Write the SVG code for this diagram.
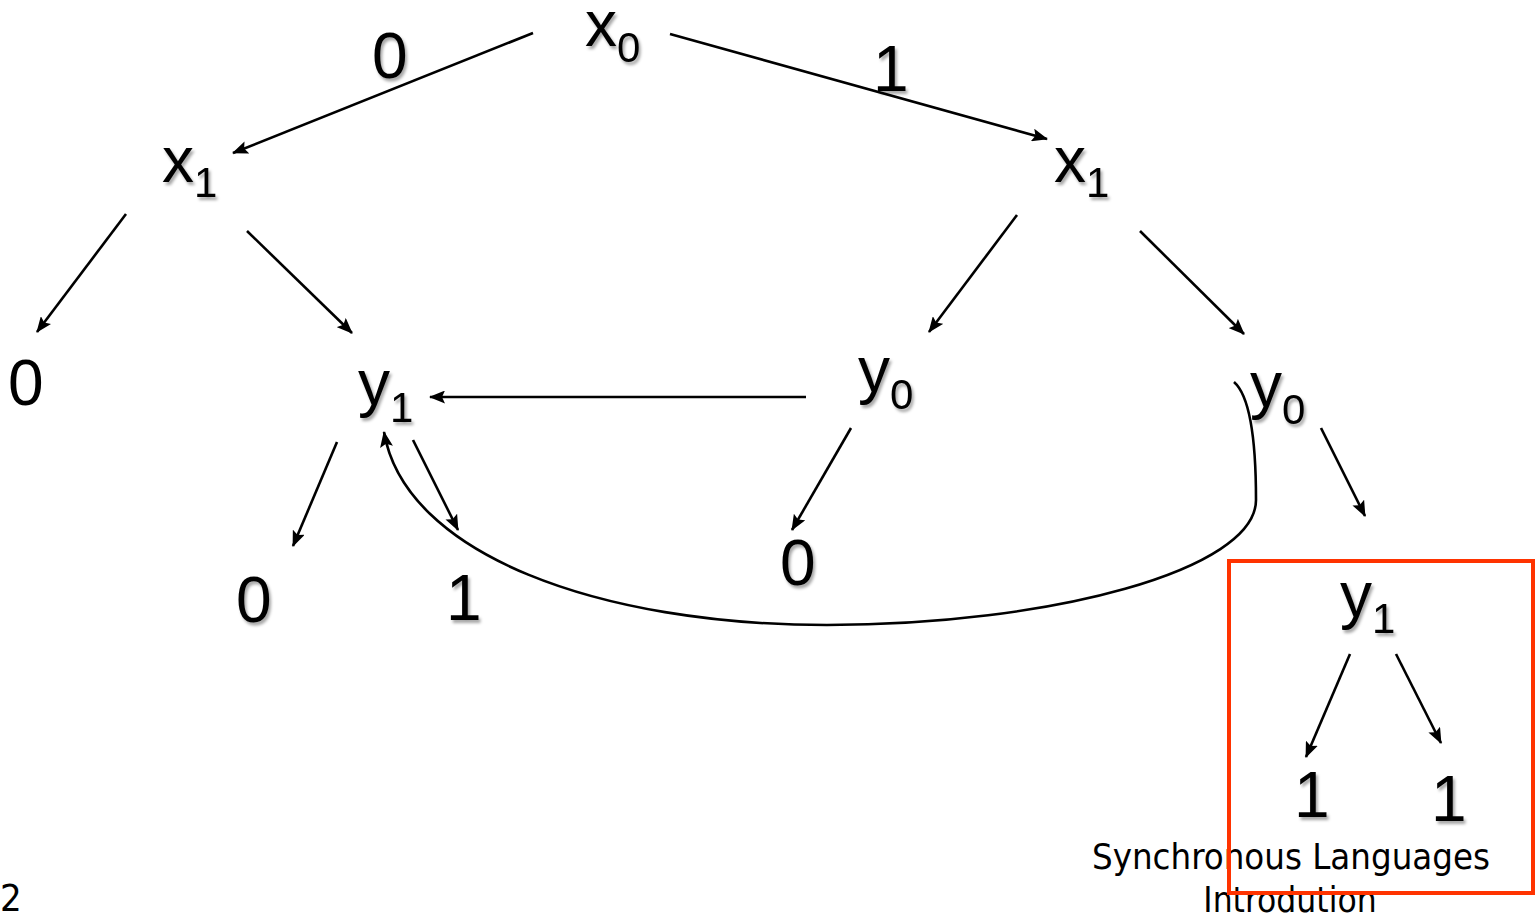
<svg xmlns="http://www.w3.org/2000/svg" width="1537" height="916" viewBox="0 0 1537 916">
<style>
.t{font-family:"Liberation Sans",Arial,sans-serif;font-size:64px;fill:#000;filter:url(#sh)}
.s{font-size:42px}
.e{fill:none;stroke:#000;stroke-width:2.6;marker-end:url(#ah)}
.f{font-family:"DejaVu Sans Condensed","DejaVu Sans",sans-serif;font-size:35px;fill:#000}
</style>
<defs>
<filter id="sh" x="-20%" y="-20%" width="150%" height="150%">
<feDropShadow dx="2" dy="3" stdDeviation="1.5" flood-color="#000" flood-opacity="0.35"/>
</filter>
<marker id="ah" viewBox="0 0 16 13" refX="15" refY="6.5" markerWidth="16" markerHeight="13" markerUnits="userSpaceOnUse" orient="auto">
<path d="M0,0 L16,6.5 L0,13 L3,6.5 Z" fill="#000"/>
</marker>
</defs>
<g id="connectors">
<line class="e" x1="533" y1="33" x2="233" y2="153"/>
<line class="e" x1="670" y1="34" x2="1047" y2="139"/>
<line class="e" x1="126" y1="214" x2="37" y2="332"/>
<line class="e" x1="247" y1="231" x2="352" y2="333"/>
<line class="e" x1="1017" y1="215" x2="929" y2="332"/>
<line class="e" x1="1140" y1="231" x2="1244" y2="334"/>
<line class="e" x1="806" y1="397" x2="430" y2="397"/>
<line class="e" x1="337" y1="442" x2="293" y2="546"/>
<line class="e" x1="413" y1="440" x2="458" y2="530"/>
<line class="e" x1="851" y1="428" x2="792" y2="530"/>
<line class="e" x1="1321" y1="428" x2="1365" y2="516"/>
<line class="e" x1="1350" y1="654" x2="1306" y2="757"/>
<line class="e" x1="1396" y1="654" x2="1441" y2="743"/>
<path class="e" d="M1234,382 C1250,396 1256,440 1256,500 C1256,570 1050,625 827,625 C600,625 405,555 384,432"/>
</g>
<g id="edge-label-0"><text class="t" x="372" y="78">0</text></g>
<g id="edge-label-1"><text class="t" x="873" y="91">1</text></g>
<g id="node-x0"><text class="t" x="585" y="46">x<tspan class="s" dy="16">0</tspan></text></g>
<g id="node-x1-left"><text class="t" x="162" y="182">x<tspan class="s" dy="15">1</tspan></text></g>
<g id="node-x1-right"><text class="t" x="1054" y="182">x<tspan class="s" dy="15">1</tspan></text></g>
<g id="node-leaf0-a"><text class="t" x="8" y="405" style="filter:none">0</text></g>
<g id="node-y1-left"><text class="t" x="358" y="405">y<tspan class="s" dy="17">1</tspan></text></g>
<g id="node-y0-mid"><text class="t" x="858" y="392">y<tspan class="s" dy="17">0</tspan></text></g>
<g id="node-y0-right"><text class="t" x="1250" y="407">y<tspan class="s" dy="17">0</tspan></text></g>
<g id="node-leaf0-b"><text class="t" x="236" y="622">0</text></g>
<g id="node-leaf1-a"><text class="t" x="446" y="620">1</text></g>
<g id="node-leaf0-c"><text class="t" x="780" y="585">0</text></g>
<g id="node-y1-box"><text class="t" x="1340" y="617">y<tspan class="s" dy="16">1</tspan></text></g>
<g id="node-leaf1-b"><text class="t" x="1294" y="817">1</text></g>
<g id="node-leaf1-c"><text class="t" x="1431" y="821">1</text></g>
<g id="footer">
<text class="f" x="1092" y="869" textLength="398" lengthAdjust="spacingAndGlyphs">Synchronous Languages</text>
<text class="f" x="1290" y="912" text-anchor="middle">Introdution</text>
<text class="f" x="0" y="911" style="font-size:38px">2</text>
</g>
<g id="highlight"><rect x="1229" y="561" width="304" height="332" fill="none" stroke="#FF3300" stroke-width="4"/></g>
</svg>
